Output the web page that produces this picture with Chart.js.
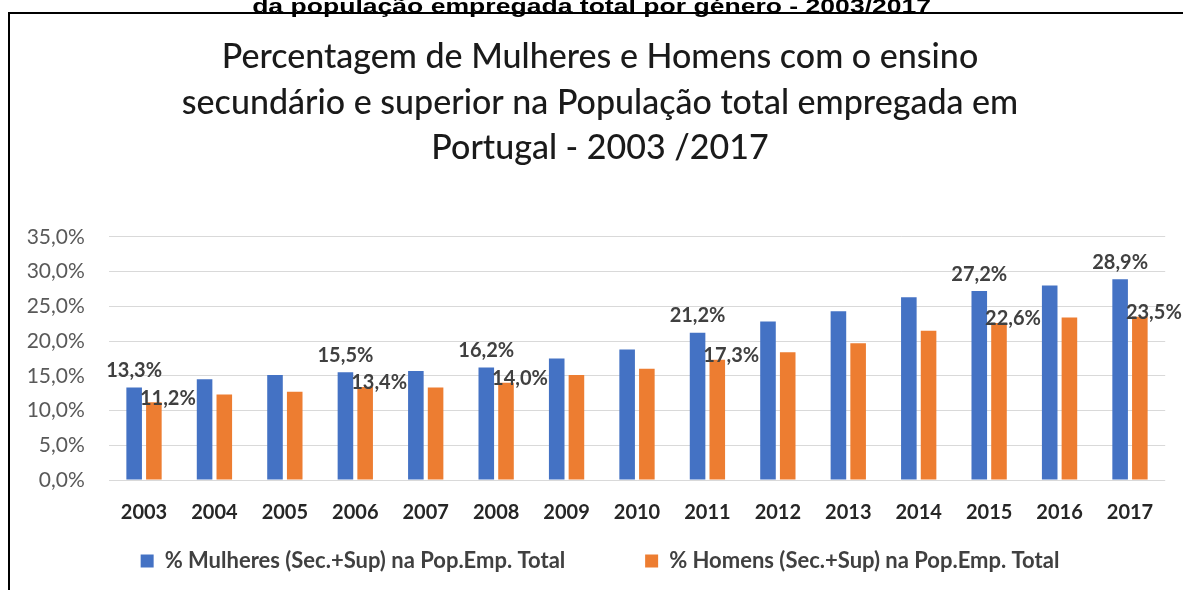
<!DOCTYPE html>
<html>
<head>
<meta charset="utf-8">
<script src="https://cdn.jsdelivr.net/npm/chart.js@4.4.0/dist/chart.umd.min.js"></script>
<style>
  html, body { margin: 0; padding: 0; background: #fff; overflow: hidden; width: 1183px; height: 590px; }
  #frame { position: absolute; left: 8px; top: 12px; width: 1300px; height: 700px;
           border-left: 2px solid #000; border-top: 2px solid #000; }
  #caption { position: absolute; left: 0; top: -4px; width: 1183px; text-align: center;
             font: bold 20px/20px "Liberation Sans", Arial, sans-serif; color: #000;
             white-space: nowrap; z-index: 2; }
  #capText { display: inline-block; transform-origin: 50% 50%; }
  #chart { position: absolute; left: 0; top: 0; }
</style>
</head>
<body>
<div id="frame"></div>
<div id="caption"><span id="capText">da população empregada total por género - 2003/2017</span></div>
<canvas id="chart" width="1200" height="600"></canvas>
<script>
/* ---------- data ---------- */
const years    = ["2003","2004","2005","2006","2007","2008","2009","2010","2011","2012","2013","2014","2015","2016","2017"];
const mulheres = [13.3, 14.5, 15.1, 15.5, 15.7, 16.2, 17.5, 18.8, 21.2, 22.8, 24.3, 26.3, 27.2, 28.0, 28.9];
const homens   = [11.2, 12.3, 12.7, 13.4, 13.3, 14.0, 15.1, 16.0, 17.3, 18.4, 19.7, 21.5, 22.6, 23.4, 23.5];
const labelledYears = ["2003","2006","2008","2011","2015","2017"]; // only these carry value labels
const yMin = 0, yMax = 35, yStep = 5;

const seriesNames = [
  "% Mulheres (Sec.+Sup) na Pop.Emp. Total",
  "% Homens (Sec.+Sup) na Pop.Emp. Total"
];
const titleLines = [
  "Percentagem de Mulheres e Homens com o ensino",
  "secundário e superior na População total empregada em",
  "Portugal - 2003 /2017"
];

const BLUE = "#4472C4", ORANGE = "#ED7D31";

/* ---------- helpers ---------- */
const pct = v => v.toFixed(1).replace(".", ",") + "%";

// squeeze the cut-off caption to the width it has in the picture
(function fitCaption(){
  const s = document.getElementById("capText");
  const w = s.getBoundingClientRect().width;
  s.style.transform = `scaleX(${679 / w})`;
})();

// value labels drawn next to the chosen bars
const valueLabels = {
  id: "valueLabels",
  afterDatasetsDraw(chart) {
    const ctx = chart.ctx;
    ctx.save();
    ctx.font = "bold 20px Lato";
    ctx.fillStyle = "#404040";
    ctx.textAlign = "center";
    ctx.textBaseline = "middle";
    chart.data.datasets.forEach((ds, di) => {
      const meta = chart.getDatasetMeta(di);
      meta.data.forEach((bar, i) => {
        if (!labelledYears.includes(years[i])) return;
        const dx = di === 0 ? 0 : 14;
        const dy = di === 0 ? -17 : -4;
        ctx.fillText(pct(ds.data[i]), bar.x + dx, bar.y + dy);
      });
    });
    ctx.restore();
  }
};

Chart.defaults.font.family = "Lato, 'Open Sans', sans-serif";

new Chart(document.getElementById("chart"), {
  type: "bar",
  data: {
    labels: years,
    datasets: [
      { label: seriesNames[0], data: mulheres, backgroundColor: BLUE,
        categoryPercentage: 0.56, barPercentage: 0.79 },
      { label: seriesNames[1], data: homens, backgroundColor: ORANGE,
        categoryPercentage: 0.56, barPercentage: 0.79 }
    ]
  },
  options: {
    responsive: false,
    animation: false,
    devicePixelRatio: 1,
    layout: { padding: { left: 0, right: 0, top: 0, bottom: 18 } },
    scales: {
      x: {
        grid: { display: false, drawTicks: false },
        border: { display: false },
        ticks: { color: "#262626", font: { size: 20, weight: "bold" }, padding: 20.5, maxRotation: 0, autoSkip: false }
      },
      y: {
        min: yMin, max: yMax,
        grid: { color: "#d9d9d9", lineWidth: 1, drawTicks: false },
        border: { display: false },
        ticks: { stepSize: yStep, color: "#595959", font: { size: 21 }, padding: 24, callback: v => pct(v) },
        afterFit: s => { s.width = 108.8; }
      },
      // empty right-hand gutter so the plot ends where it does in the picture
      yRight: {
        position: "right",
        grid: { display: false, drawTicks: false },
        border: { display: false },
        ticks: { display: false },
        afterFit: s => { s.width = 34.8; }
      }
    },
    plugins: {
      title: {
        display: true,
        text: titleLines,
        color: "#1a1a1a",
        font: { size: 34, weight: 500, lineHeight: 1.34 },
        padding: { top: 34.2, bottom: 66 }
      },
      legend: {
        position: "bottom",
        labels: {
          boxWidth: 13, boxHeight: 13, padding: 5, color: "#404040",
          font: { size: 22, weight: "bold" },
          // wider gap between the two entries, as in the picture
          generateLabels: chart => {
            const items = Chart.defaults.plugins.legend.labels.generateLabels(chart);
            items[0].text += " ".repeat(14);
            return items;
          }
        }
      },
      tooltip: { enabled: false }
    }
  },
  plugins: [valueLabels]
});
</script>
</body>
</html>
